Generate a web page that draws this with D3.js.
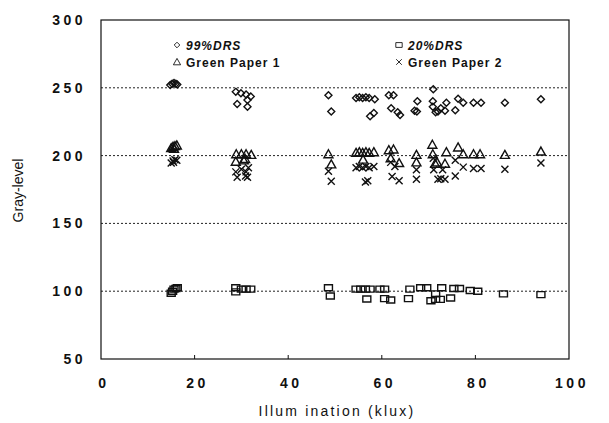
<!DOCTYPE html>
<html>
<head>
<meta charset="utf-8">
<script src="https://cdn.jsdelivr.net/npm/d3@7"></script>
<style>
  body { margin: 0; background: #fff; }
  text { font-family: "Liberation Sans", Arial, sans-serif; fill: #111; }
  .tick-label { font-size: 14px; font-weight: bold; letter-spacing: 3.5px; }
  .legend-text { font-size: 12px; font-weight: bold; letter-spacing: 1px; }
</style>
</head>
<body>
<svg id="chart" width="609" height="423"></svg>
<script>
// series: [illumination klux, gray-level]
var drs99 = [[14.8,252],[15.2,253],[15.6,253.5],[16,253],[16.3,252.5],
  [28.8,247],[29.9,246],[31,245],[32,243.5],[31.3,241],[29.1,238],[31.3,236],
  [48.6,244.5],[49.2,232.5],
  [54.5,242.5],[55.2,243],[55.9,242.5],[56.6,243],[57.3,242.5],[58.5,241.5],
  [57.5,229],[58.3,231.5],
  [61.5,244.5],[62.5,244.5],[62,235],[63.4,232],[63.9,230],
  [67.6,240],[71,249],[67,233],[67.5,232.5],[70.9,240],[70.9,236],[71.5,232],[72,232.5],
  [72.6,235],[73.8,239],[73.5,233],[75.7,233.5],[76.3,242],[77.4,239],[79.6,239],[81.2,239],
  [86.3,239],[94,241.5]];

var drs20 = [[15,98.5],[15.3,100],[15.6,101.5],[16,102],[16.3,102.5],
  [28.8,102.5],[28.8,99.5],[30,101.5],[31,101.5],[32,101.5],
  [48.6,102.5],[49,96.5],
  [54.5,101.5],[55.5,101.5],[56.5,101.5],[57.5,101.5],[56.8,94.3],
  [59.6,101.5],[60.6,101.5],[60.6,94.5],[61.9,93.5],
  [65.7,94.5],[66,101.5],[68.3,102.5],[69.6,102.5],[70.5,93],[71.5,94],[72.5,94],[71.5,98],
  [72.8,102.5],[74.7,95],[75.4,102],[76.6,102],[78.9,100.5],[80.5,100],[86,98],[94,97.5]];

var greenPaper1 = [[15,205.5],[15.4,206.5],[15.8,207],[16.2,207.5],[15.6,205],
  [28.9,201],[30,201],[31,201],[32.1,200.5],[28.8,195.5],[30.5,196.5],[30.8,197.5],
  [48.6,201],[49.2,193.5],
  [54.5,202],[55.2,202.5],[55.9,202],[56.6,202.5],[57.3,202],[58.3,202.5],[56,197],
  [61.5,204],[62.5,204.5],[61.9,198],[63.7,194.5],
  [67.4,200.5],[67.4,195],[70.8,208],[70.9,201],[71.4,194],[71.8,195],[73.5,194],[73.8,202.5],
  [76.3,206],[77.4,201],[79.6,201],[81,201],[86.3,200.5],[94,203]];

var greenPaper2 = [[15,194.5],[15.4,196],[15.8,197],[16.2,196.5],[15.5,195],
  [28.8,188],[30,190],[31,188],[29.1,184],[31.3,184],[31.5,191],[30.9,185],
  [48.6,188.5],[49.2,181],
  [54.5,191],[55.2,192],[55.9,191],[56.6,192],[57.3,191],[58.3,192],[56.5,180.5],[57,181.5],
  [61.9,195],[62.8,192],[62.2,184.5],[63.7,181.5],
  [67.4,189.5],[67.4,182.5],[71,198],[71.1,189.5],[72,182.5],[72.6,183],[73.5,182.5],[73,189.5],
  [75.7,185],[75.7,196.5],[77.4,191.5],[79.6,190.5],[81.2,190.5],[86.3,190],[94,194.5]];

var xTicks = [0, 20, 40, 60, 80, 100];
var yTicks = [50, 100, 150, 200, 250, 300];
var gridValues = [100, 150, 200, 250];

var margin = {top: 20, right: 40, bottom: 64, left: 101};
var width = 609 - margin.left - margin.right;
var height = 423 - margin.top - margin.bottom;

var x = d3.scaleLinear().domain([0, 100]).range([0, width]);
var y = d3.scaleLinear().domain([50, 300]).range([height, 0]);

var svg = d3.select('#chart');
var g = svg.append('g')
    .attr('transform', 'translate(' + margin.left + ',' + margin.top + ')');

// dotted grid
g.selectAll('line.grid')
    .data(gridValues)
    .join('line')
    .attr('class', 'grid')
    .attr('x1', 0)
    .attr('x2', width)
    .attr('y1', function(d) { return y(d); })
    .attr('y2', function(d) { return y(d); })
    .attr('stroke', '#222')
    .attr('stroke-width', 1)
    .attr('stroke-dasharray', '2,2');

// frame
g.append('rect')
    .attr('width', width)
    .attr('height', height)
    .attr('fill', 'none')
    .attr('stroke', '#111')
    .attr('stroke-width', 1.2);

// small inward ticks on x
g.selectAll('line.xtick')
    .data(xTicks.slice(1, -1))
    .join('line')
    .attr('x1', function(d) { return x(d); })
    .attr('x2', function(d) { return x(d); })
    .attr('y1', height)
    .attr('y2', height - 4)
    .attr('stroke', '#111');

g.selectAll('text.xl')
    .data(xTicks)
    .join('text')
    .attr('class', 'tick-label')
    .attr('x', function(d) { return x(d) + 3; })
    .attr('y', height + 29)
    .attr('text-anchor', 'middle')
    .text(function(d) { return d; });

g.selectAll('text.yl')
    .data(yTicks)
    .join('text')
    .attr('class', 'tick-label')
    .attr('x', -15)
    .attr('y', function(d) { return y(d) + 5; })
    .attr('text-anchor', 'end')
    .text(function(d) { return d; });

g.append('text')
    .attr('x', width / 2 + 2)
    .attr('y', height + 57)
    .attr('text-anchor', 'middle')
    .style('font-size', '14px')
    .style('letter-spacing', '2.2px')
    .text('Illum ination (klux)');

g.append('text')
    .attr('transform', 'translate(-78,' + (height / 2 + 1) + ') rotate(-90)')
    .attr('text-anchor', 'middle')
    .style('font-size', '14px')
    .text('Gray-level');

// markers
var series = [
  {name: '99%DRS', data: drs99, shape: 'diamond', italic: true},
  {name: '20%DRS', data: drs20, shape: 'square', italic: true},
  {name: 'Green Paper 1', data: greenPaper1, shape: 'triangle', italic: false},
  {name: 'Green Paper 2', data: greenPaper2, shape: 'cross', italic: false}
];

function markerPath(shape) {
  if (shape === 'diamond') return 'M0,-3.5L3.5,0L0,3.5L-3.5,0Z';
  if (shape === 'square') return 'M-4,-3H4V3H-4Z';
  if (shape === 'triangle') return 'M0,-4.5L4.5,3.5H-4.5Z';
  return 'M-3.5,-3.5L3.5,3.5M-3.5,3.5L3.5,-3.5';
}

series.forEach(function(s) {
  g.append('g')
    .selectAll('path')
    .data(s.data)
    .join('path')
    .attr('transform', function(d) { return 'translate(' + x(d[0]) + ',' + y(d[1]) + ')'; })
    .attr('d', markerPath(s.shape))
    .attr('fill', 'none')
    .attr('stroke', '#111')
    .attr('stroke-width', 1.4);
});

// legend
var legendPos = [[76, 25], [298, 25], [76, 42], [298, 42]];
series.forEach(function(s, i) {
  var lg = g.append('g')
    .attr('transform', 'translate(' + legendPos[i][0] + ',' + legendPos[i][1] + ')');
  lg.append('path')
    .attr('d', markerPath(s.shape))
    .attr('transform', 'scale(0.8)')
    .attr('fill', 'none')
    .attr('stroke', '#111')
    .attr('stroke-width', 1.1);
  lg.append('text')
    .attr('class', 'legend-text')
    .attr('x', 9)
    .attr('y', 4.5)
    .style('font-style', s.italic ? 'italic' : 'normal')
    .text(s.name);
});
</script>
</body>
</html>
